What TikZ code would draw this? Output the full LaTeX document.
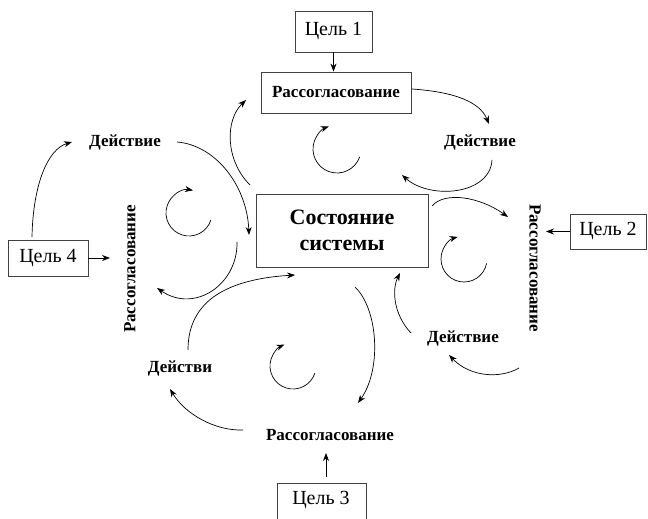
\documentclass[tikz,border=0pt]{standalone}
\usepackage{fontspec}
\setmainfont{Liberation Serif}
\usetikzlibrary{arrows.meta}
\begin{document}
\begin{tikzpicture}[x=1pt,y=1pt,
  box/.style={draw=black!75, line width=0.8pt, inner sep=0pt},
  goal/.style={box, font=\fontsize{20}{22}\selectfont},
  lbl/.style={font=\bfseries\fontsize{17}{19}\selectfont, inner sep=0pt},
  arr/.style={-{Stealth[length=8pt,width=6pt]}, line width=0.7pt},
  swirl/.style={arr}]
\useasboundingbox (0,0) rectangle (648,519);
\clip (0,0) rectangle (648,519);
% nodes
\node[goal, minimum width=77, minimum height=41] (c1) at (333.5,487.5) {Цель 1};
\node[box, lbl, minimum width=150, minimum height=41] (r1) at (336,426.5) {Рассогласование};
\node[lbl] (d1) at (480,377) {Действие};
\node[box, font=\bfseries\fontsize{22}{26}\selectfont, align=center, minimum width=172, minimum height=73] (sys) at (342,288.5) {Состояние\\системы};
\node[lbl] (d4) at (125,377) {Действие};
\node[goal, minimum width=80, minimum height=36] (c4) at (48,261) {Цель 4};
\node[lbl, rotate=90] (r4) at (130,250) {Рассогласование};
\node[lbl, rotate=-90] (r2) at (535,251) {Рассогласование};
\node[goal, minimum width=76, minimum height=35] (c2) at (608,287.5) {Цель 2};
\node[lbl] (d2) at (463,181) {Действие};
\node[lbl] (d3) at (180,151) {Действи};
\node[lbl] (r3) at (330,84) {Рассогласование};
\draw[box] (277,-10) rectangle (366,36);
\node[font=\fontsize{20}{22}\selectfont] (c3) at (321,19) {Цель 3};
% named free ends
\coordinate (c3top) at (326,42);
\coordinate (r3in) at (326,66);
\coordinate (r4in) at (110,261);
\coordinate (r2in) at (546,287.5);
% straight arrows
\draw[arr] (c1.south) -- (c1.south |- r1.north);
\draw[arr] (c4.east) -- (r4in);
\draw[arr] (c2.west) -- (r2in);
\draw[arr] (c3top) -- (r3in);
% curved arrows
\draw[arr] (412,430) .. controls (455,427) and (480,417) .. (489,395);
\draw[arr] (492,359) .. controls (490,324) and (430,319) .. (402,344);
\draw[arr] (250,334) .. controls (225,359) and (225,399) .. (246,419);
\draw[arr] (32,282) .. controls (33,335) and (48,370) .. (72,377);
\draw[arr] (177,377) .. controls (215,374) and (247,334) .. (249,284);
\draw[arr] (432,313) .. controls (445,328) and (480,322) .. (508,302);
\draw[arr] (411,186) .. controls (393,205) and (392,230) .. (400,246);
\draw[arr] (519,151) .. controls (500,140) and (470,142) .. (449,164);
\draw[arr] (237,277) .. controls (238,235) and (195,205) .. (157,231);
\draw[arr] (188,169) .. controls (188,220) and (230,240) .. (295,244);
\draw[arr] (243,89) .. controls (215,88) and (185,105) .. (170,130);
\draw[arr] (355,232) .. controls (378,210) and (382,150) .. (358,116);
% small circular arrows
\draw[swirl] ([shift={(-19:24)}]337,370) arc[start angle=-19, end angle=-250, radius=24];
\draw[swirl] ([shift={(-18:23)}]189,306) arc[start angle=-18, end angle=-280, radius=23];
\draw[swirl] ([shift={(-11:23)}]464,260) arc[start angle=-11, end angle=-254, radius=23];
\draw[swirl] ([shift={(-18:23)}]293,153) arc[start angle=-18, end angle=-248, radius=23];
\end{tikzpicture}
\end{document}
